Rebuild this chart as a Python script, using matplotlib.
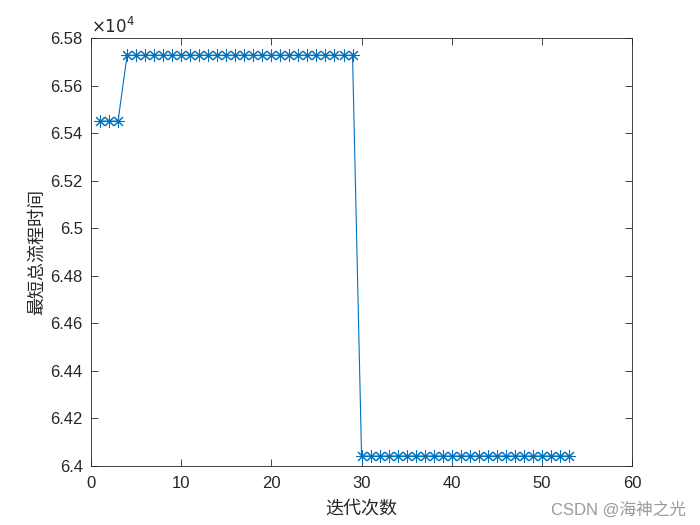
import matplotlib
matplotlib.use("Agg")
import matplotlib.pyplot as plt
from matplotlib.ticker import FuncFormatter

iters = list(range(1, 54))
vals = [65451.0] * 3 + [65728.0] * 26 + [64042.0] * 24

x_ticks = [0, 10, 20, 30, 40, 50, 60]
y_ticks = [64000, 64200, 64400, 64600, 64800, 65000, 65200, 65400, 65600, 65800]
xlabel = "迭代次数"
ylabel = "最短总流程时间"
watermark = "CSDN @海神之光"

plt.rcParams['font.family'] = ['Liberation Sans', 'Noto Sans CJK SC', 'DejaVu Sans']

fig = plt.figure(figsize=(7, 5.25), dpi=100)
ax = fig.add_axes([0.13, 0.1124, 0.773, 0.815])
ax.plot(iters, vals, color='#0072BD', linewidth=0.8, marker=(8, 2, 0), markersize=9,
        markeredgewidth=0.75)
ax.set_xlim(0, 60)
ax.set_ylim(64000, 65800)
ax.set_xticks(x_ticks)
ax.set_yticks(y_ticks)
ax.yaxis.set_major_formatter(FuncFormatter(lambda v, p: "%g" % (v / 1e4)))
ax.tick_params(direction='in', top=True, right=True, length=5, width=0.6,
               labelsize=12, colors='#262626', pad=6)
ax.tick_params(axis='x', pad=7)
for s in ax.spines.values():
    s.set_linewidth(0.6)
    s.set_color('#262626')
ax.set_xlabel(xlabel, family=['Noto Sans CJK SC'], fontsize=13, color='#262626', labelpad=6)
ax.set_ylabel(ylabel, family=['Noto Sans CJK SC'], fontsize=13, color='#262626', labelpad=3)
ax.text(0.0, 1.004, r"$\times10^{4}$", transform=ax.transAxes, fontsize=12,
        color='#262626', ha='left', va='bottom')
fig.text(0.98, 0.014, watermark, family=['Liberation Sans', 'Noto Sans CJK SC'],
         fontsize=12, color='#9a9a9a', ha='right', va='bottom')
fig.savefig("out.png", dpi=100, facecolor='white')
